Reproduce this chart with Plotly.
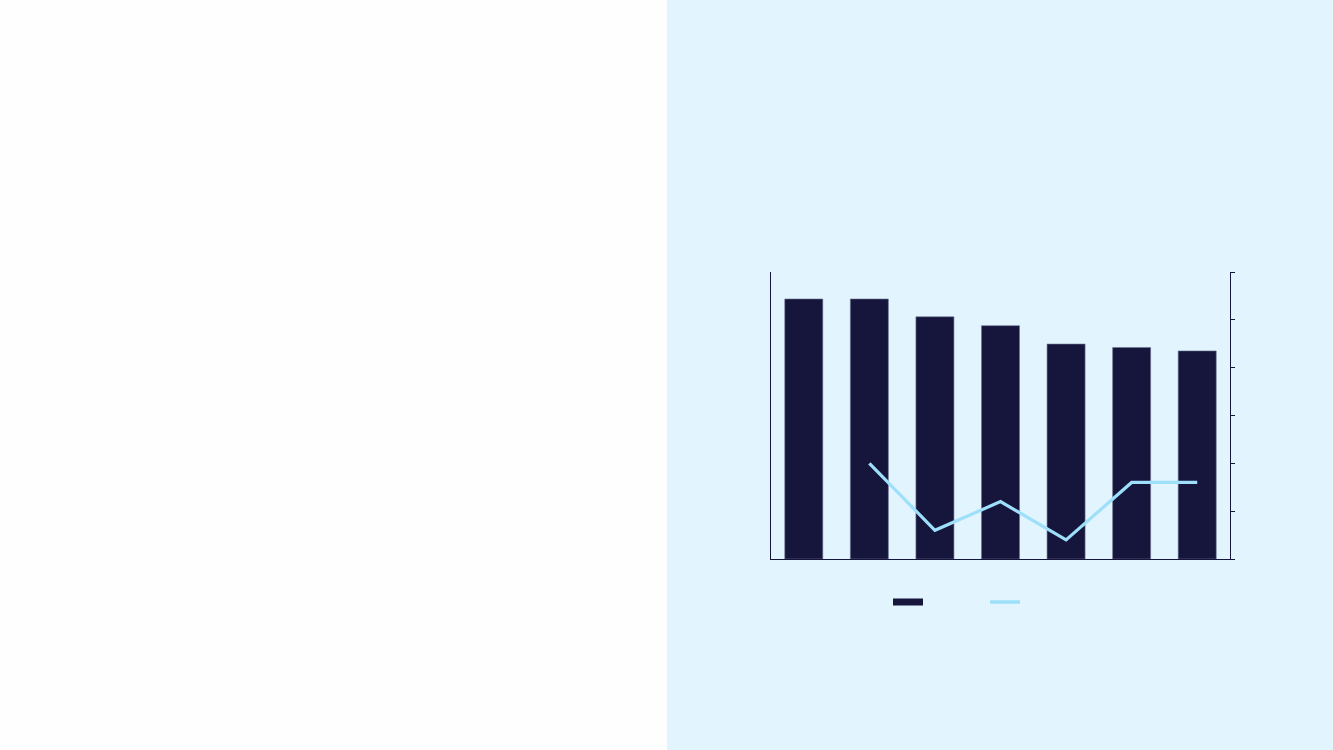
import plotly.graph_objects as go

categories = ["1", "2", "3", "4", "5", "6", "7"]
bar_values = [90.6, 90.6, 84.4, 81.3, 74.9, 73.7, 72.5]
line_categories = ["2", "3", "4", "5", "6", "7"]
line_values = [1.0, 0.3, 0.6, 0.2, 0.8, 0.8]

DARK = "#16163D"
LIGHT = "#9EDFFA"
BG = "#E2F5FF"

W, H = 1333, 750
L, R, T, B = 771, 1333 - 1230, 272, 750 - 559
pw, ph = W - L - R, H - T - B

fig = go.Figure()
fig.add_trace(go.Bar(
    x=categories, y=bar_values, marker=dict(color=DARK, line=dict(color="#6f7390", width=0.6)),
    showlegend=False, yaxis="y",
))
fig.add_trace(go.Scatter(
    x=line_categories, y=line_values, mode="lines", line=dict(color=LIGHT, width=3.2),
    yaxis="y2", name=" ", showlegend=False,
))
# legend entries
fig.add_trace(go.Scatter(x=[None], y=[None], mode="lines", line=dict(color=DARK, width=7),
                         name=" ", showlegend=True))
fig.add_trace(go.Scatter(x=[None], y=[None], mode="lines", line=dict(color=LIGHT, width=3.5),
                         name=" ", showlegend=True, yaxis="y2"))

fig.update_layout(
    width=W, height=H,
    margin=dict(l=L, r=R, t=T, b=B, pad=0),
    paper_bgcolor=BG, plot_bgcolor=BG,
    bargap=0.42,
    xaxis=dict(type="category", categoryorder="array", categoryarray=categories,
               showticklabels=False, ticks="", showgrid=False, zeroline=False,
               showline=True, linecolor=DARK, linewidth=1.2, range=[-0.5, 6.5]),
    yaxis=dict(range=[0, 100], showticklabels=False, ticks="", showgrid=False, zeroline=False,
               showline=True, linecolor=DARK, linewidth=1.2),
    yaxis2=dict(range=[0, 3], dtick=0.5, overlaying="y", side="right", showticklabels=False,
                ticks="outside", ticklen=4, tickwidth=1.2, tickcolor=DARK, showgrid=False,
                zeroline=False, showline=True, linecolor=DARK, linewidth=1.2),
    legend=dict(orientation="h", x=(888 - L) / pw, xanchor="left", y=-(602 - 559) / ph,
                yanchor="middle", bgcolor="rgba(0,0,0,0)", entrywidth=52, font=dict(size=12)),
    shapes=[dict(type="rect", xref="paper", yref="paper", layer="below",
                 x0=-L / pw - 0.05, x1=(667 - L) / pw, y0=-2, y1=3,
                 fillcolor="#FEFEFE", line=dict(width=0))],
    showlegend=True,
)

fig.write_html("out.html", config={"displayModeBar": False},
               post_script="document.body.style.margin='0';document.body.style.padding='0';")
